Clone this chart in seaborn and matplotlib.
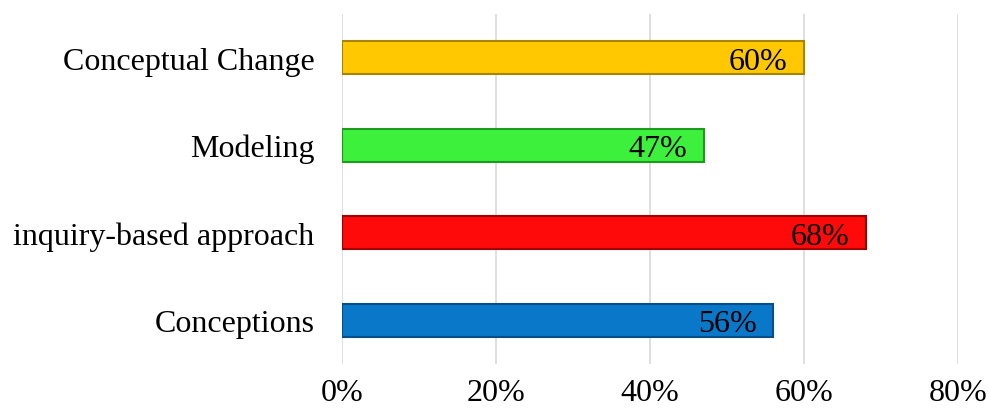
import matplotlib
matplotlib.use("Agg")
import matplotlib.pyplot as plt
import seaborn as sns
import pandas as pd

categories = ["Conceptual Change", "Modeling", "inquiry-based approach", "Conceptions"]
values = [0.60, 0.47, 0.68, 0.56]
labels = ["60%", "47%", "68%", "56%"]
colors = ["#FFC800", "#3CF03C", "#FF0A0A", "#0A78C8"]
edges = ["#A88400", "#1E9A1E", "#A00000", "#064E88"]
xticks = [0, 0.2, 0.4, 0.6, 0.8]
xticklabels = ["0%", "20%", "40%", "60%", "80%"]

sns.set_theme(style="white")
plt.rcParams["font.family"] = ["Liberation Serif", "DejaVu Serif"]

df = pd.DataFrame({"cat": categories, "val": values})

fig = plt.figure(figsize=(9.88, 4.14), dpi=100)
ax = fig.add_axes([0.3462, 0.1184, 0.6234, 0.8454])
sns.barplot(data=df, y="cat", x="val", hue="cat", palette=colors, orient="h",
            width=0.38, legend=False, ax=ax, saturation=1)

for patch, ec in zip(ax.patches, edges):
    patch.set_edgecolor(ec)
    patch.set_linewidth(1.5)

for cont, lab in zip(ax.containers, labels):
    txts = ax.bar_label(cont, labels=[lab], label_type="edge", padding=-12,
                        fontsize=23, color="black")
    for t in txts:
        t.set_ha("right")
        t.set_va("center_baseline")

ax.set_xlim(0, 0.8)
ax.set_ylim(3.5, -0.5)
ax.set_xticks(xticks)
ax.set_xticklabels(xticklabels, fontsize=23, color="black")
ax.tick_params(axis="y", labelsize=23, length=0, pad=20, labelcolor="black")
ax.tick_params(axis="x", length=0, pad=10, labelcolor="black")
ax.set_xlabel("")
ax.set_ylabel("")
ax.grid(axis="x", color="#D9D9D9", linewidth=1.2)
ax.set_axisbelow(True)
for s in ax.spines.values():
    s.set_visible(False)

fig.savefig("out.png", dpi=100)
